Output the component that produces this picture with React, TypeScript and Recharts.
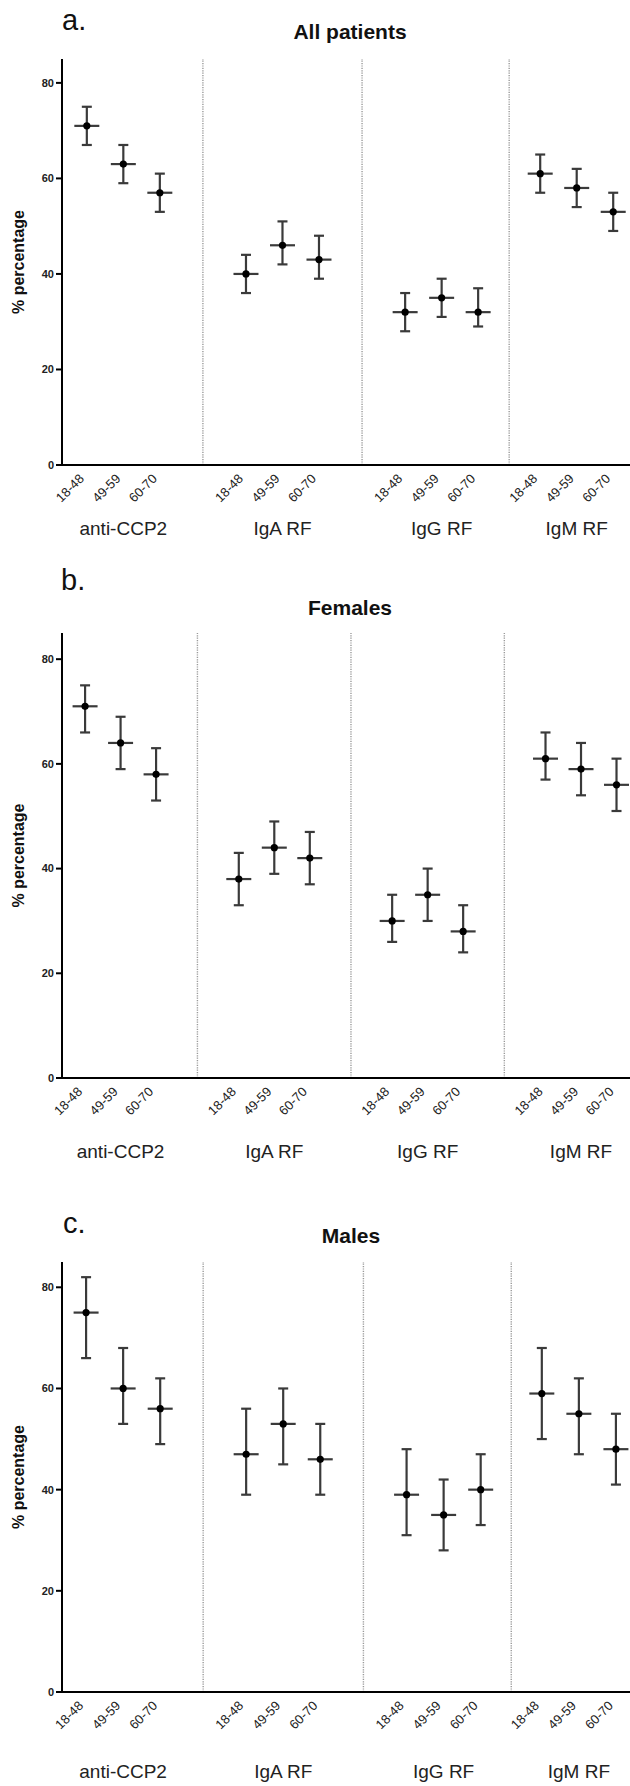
import { ScatterChart, Scatter, XAxis, YAxis, ErrorBar, ReferenceLine } from "recharts";

const ageGroups = ["18-48", "49-59", "60-70"];
const markers = ["anti-CCP2", "IgA RF", "IgG RF", "IgM RF"];
const yTicks = [0, 20, 40, 60, 80];

// a. All patients
const allMean = [71, 63, 57, 40, 46, 43, 32, 35, 32, 61, 58, 53];
const allLow = [67, 59, 53, 36, 42, 39, 28, 31, 29, 57, 54, 49];
const allHigh = [75, 67, 61, 44, 51, 48, 36, 39, 37, 65, 62, 57];

// b. Females
const femaleMean = [71, 64, 58, 38, 44, 42, 30, 35, 28, 61, 59, 56];
const femaleLow = [66, 59, 53, 33, 39, 37, 26, 30, 24, 57, 54, 51];
const femaleHigh = [75, 69, 63, 43, 49, 47, 35, 40, 33, 66, 64, 61];

// c. Males
const maleMean = [75, 60, 56, 47, 53, 46, 39, 35, 40, 59, 55, 48];
const maleLow = [66, 53, 49, 39, 45, 39, 31, 28, 33, 50, 47, 41];
const maleHigh = [82, 68, 62, 56, 60, 53, 48, 42, 47, 68, 62, 55];

interface Row {
  x: number;
  value: number;
  err: [number, number];
  age: string;
  marker: string;
}

interface PanelProps {
  top: number;
  height: number;
  marginTop: number;
  axisHeight: number;
  groupStart: number[];
  domain: [number, number];
  groupDy: number;
  mean: number[];
  low: number[];
  high: number[];
}

const INK = "#3a3a3a";

function buildRows(mean: number[], low: number[], high: number[], groupStart: number[]): Row[] {
  const rows: Row[] = [];
  markers.forEach((m, g) => {
    ageGroups.forEach((a, i) => {
      const k = g * ageGroups.length + i;
      rows.push({
        x: groupStart[g] + i,
        value: mean[k],
        err: [mean[k] - low[k], high[k] - mean[k]],
        age: a,
        marker: m,
      });
    });
  });
  return rows;
}

const MeanMark = (props: any) => {
  const { cx, cy } = props;
  return (
    <g>
      <line x1={cx - 12.5} x2={cx + 12.5} y1={cy} y2={cy} stroke={INK} strokeWidth={2.2} />
      <circle cx={cx} cy={cy} r={3.6} fill="#000" />
    </g>
  );
};

function Panel({ top, height, marginTop, axisHeight, groupStart, domain, groupDy, mean, low, high }: PanelProps) {
  const rows = buildRows(mean, low, high, groupStart);
  const dividers = groupStart.slice(1).map((s, g) => (groupStart[g] + ageGroups.length - 1 + s) / 2);

  const renderTick = (p: any) => {
    const row = rows.find((r) => Math.abs(r.x - p.payload.value) < 1e-6);
    if (!row) return <g />;
    const i = ageGroups.indexOf(row.age);
    return (
      <g>
        <text
          transform={`translate(${p.x - 2},${p.y + 14.5}) rotate(-45)`}
          textAnchor="end"
          fontSize={13}
          fill="#222"
        >
          {row.age}
        </text>
        {i === 1 && (
          <text x={p.x} y={p.y + groupDy} textAnchor="middle" fontSize={19} fill="#222">
            {row.marker}
          </text>
        )}
      </g>
    );
  };

  return (
    <div style={{ position: "absolute", left: 0, top }}>
      <ScatterChart width={630} height={height} margin={{ top: marginTop, right: 0, bottom: 0, left: 0 }}>
        <XAxis
          type="number"
          dataKey="x"
          domain={domain}
          ticks={rows.map((r) => r.x)}
          interval={0}
          allowDataOverflow
          height={axisHeight}
          tickLine={false}
          tickSize={0}
          tickMargin={0}
          axisLine={{ stroke: "#000", strokeWidth: 2 }}
          tick={renderTick}
        />
        <YAxis
          type="number"
          dataKey="value"
          domain={[0, 85]}
          ticks={yTicks}
          allowDataOverflow
          width={62}
          tickSize={6}
          tickMargin={2}
          tickLine={{ stroke: "#000", strokeWidth: 2 }}
          axisLine={{ stroke: "#000", strokeWidth: 2 }}
          tick={{ fontSize: 11, fontWeight: 700, fill: "#222" }}
          label={{
            value: "% percentage",
            angle: -90,
            position: "insideLeft",
            offset: 18,
            style: { textAnchor: "middle", fontWeight: 700, fontSize: 16, fill: "#111" },
          }}
        />
        {dividers.map((d) => (
          <ReferenceLine key={d} x={d} stroke="#999" strokeDasharray="1.2 1.2" strokeWidth={1.4} />
        ))}
        <Scatter data={rows} dataKey="value" shape={MeanMark} isAnimationActive={false}>
          <ErrorBar dataKey="err" direction="y" width={5} stroke={INK} strokeWidth={2.2} />
        </Scatter>
      </ScatterChart>
    </div>
  );
}

export default function App() {
  return (
    <div
      style={{
        position: "absolute",
        left: 0,
        top: 0,
        width: 630,
        height: 1786,
        overflow: "hidden",
        background: "#fff",
        fontFamily: "Arial, 'Liberation Sans', Helvetica, sans-serif",
      }}
    >
      <Panel
        top={0}
        height={545}
        marginTop={59}
        axisHeight={80}
        groupStart={[0, 4.36, 8.72, 12.42]}
        domain={[-0.68, 14.88]}
        groupDy={70}
        mean={allMean}
        low={allLow}
        high={allHigh}
      />
      <Panel
        top={545}
        height={635}
        marginTop={88}
        axisHeight={102}
        groupStart={[0, 4.33, 8.65, 12.97]}
        domain={[-0.65, 15.35]}
        groupDy={80}
        mean={femaleMean}
        low={femaleLow}
        high={femaleHigh}
      />
      <Panel
        top={1180}
        height={606}
        marginTop={82}
        axisHeight={94}
        groupStart={[0, 4.32, 8.65, 12.3]}
        domain={[-0.65, 14.68]}
        groupDy={86}
        mean={maleMean}
        low={maleLow}
        high={maleHigh}
      />
      <svg
        width={630}
        height={1786}
        style={{ position: "absolute", left: 0, top: 0, pointerEvents: "none" }}
      >
        <text x={62} y={30} fontSize={29} fill="#111">a.</text>
        <text x={350} y={39} fontSize={21} fontWeight={700} textAnchor="middle" fill="#111">All patients</text>
        <text x={61} y={590} fontSize={29} fill="#111">b.</text>
        <text x={350} y={615} fontSize={21} fontWeight={700} textAnchor="middle" fill="#111">Females</text>
        <text x={63} y={1233} fontSize={29} fill="#111">c.</text>
        <text x={351} y={1243} fontSize={21} fontWeight={700} textAnchor="middle" fill="#111">Males</text>
      </svg>
    </div>
  );
}
